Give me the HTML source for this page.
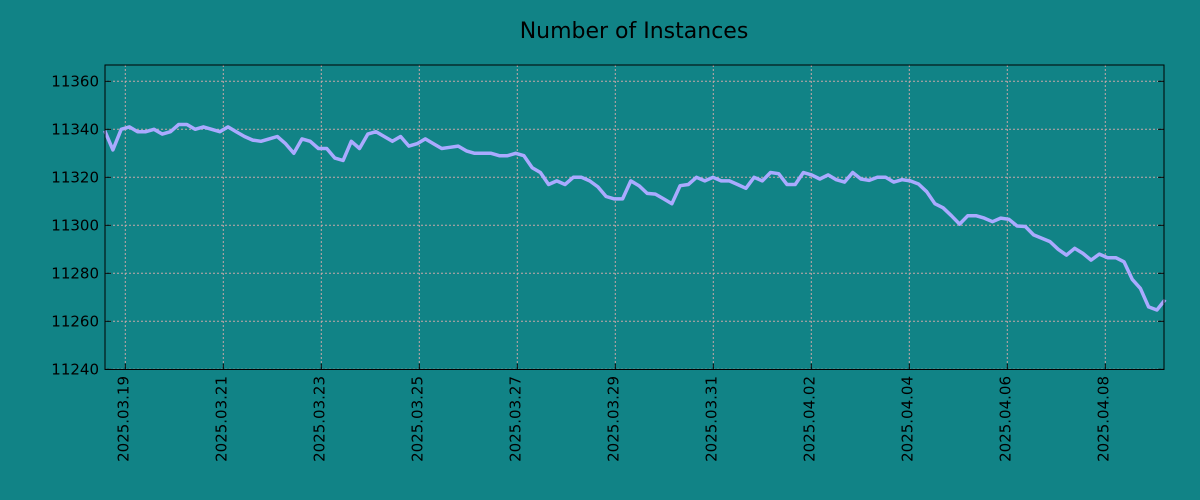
<!DOCTYPE html>
<html><head><meta charset="utf-8"><style>
html,body{margin:0;padding:0;background:#118386;overflow:hidden;width:1200px;height:500px;}
svg{display:block;}
svg text{font-family:"DejaVu Sans","Liberation Sans",sans-serif;fill:#000;}
</style></head><body>
<svg width="1200" height="500" xmlns="http://www.w3.org/2000/svg">
<rect width="1200" height="500" fill="#118386"/>
<text x="634" y="38" font-size="22" text-anchor="middle">Number of Instances</text>
<g id="grid"></g><g id="plot"></g><g id="axes"></g>
</svg>
<script>
const values = [11339.4,11331.4,11340,11341,11339,11339,11340,11338,11339,11342,11342,11340,11341,11340,11339,11341,11339,11337,11335.5,11335,11336,11337,11334,11330,11336,11335,11332,11332,11328,11327,11335,11332,11338,11339,11337,11335,11337,11333,11334,11336,11334,11332,
11332.5,11333,11331,11330,11330,11330,11329,11329,11330,11329,11324,11322,11317,11318.5,11317,11320,11320,11318.5,11316,11312,11311,11311,11318.5,11316.5,11313.3,11313,11311,11309,11316.5,11317,11320,11318.5,11320,11318.5,11318.5,11317,11315.4,11320,11318.5,11322,11321.5,11317,11317,11322,
11321,11319.3,11321,11319,11318,11322,11319.3,11318.7,11320,11320,11318,11319,11318.5,11317.2,11314,11309,11307.3,11304,11300.5,11304,11304,11303,11301.5,11303,11302.5,11299.7,11299.5,11296,11294.6,11293.2,11290,11287.6,11290.4,11288.3,11285.5,11288,11286.5,11286.5,11284.8,11277.5,11273.7,11266,11264.7,11269];
const tStart = -0.42, tEnd = 21.22; // days relative to 2025-03-19
const yTicks = [11240,11260,11280,11300,11320,11340,11360];
const xTickDays = [0,2,4,6,8,10,12,14,16,18,20];
const xTickLabels = ["2025.03.19","2025.03.21","2025.03.23","2025.03.25","2025.03.27","2025.03.29","2025.03.31","2025.04.02","2025.04.04","2025.04.06","2025.04.08"];

const L=105,R=1164,T=65,B=369.5;
const xScale = d => 125.3 + d*49;
const yScale = v => 129.3 - (v-11340)*2.4;
const NS="http://www.w3.org/2000/svg";
function mk(tag, parent){const e=document.createElementNS(NS,tag);parent.appendChild(e);return e;}
const grid=document.getElementById('grid'), plot=document.getElementById('plot'), axes=document.getElementById('axes');

yTicks.forEach(v=>{
  const y=yScale(v);
  const g=mk('line',grid);
  
  
  g.setAttribute('x1',L);g.setAttribute('x2',R);g.setAttribute('y1',y);g.setAttribute('y2',y);
  g.setAttribute('stroke','#c8a8a8');g.setAttribute('stroke-dasharray','2,2');g.setAttribute('stroke-width','1');
  const tk=mk('line',axes);
  
  
  tk.setAttribute('x1',L);tk.setAttribute('x2',L+6);tk.setAttribute('y1',y);tk.setAttribute('y2',y);tk.setAttribute('stroke','#000');
  const tk2=mk('line',axes);
  
  
  tk2.setAttribute('x1',R-6);tk2.setAttribute('x2',R);tk2.setAttribute('y1',y);tk2.setAttribute('y2',y);tk2.setAttribute('stroke','#000');
  const t=mk('text',axes);
  
  
  t.setAttribute('x',L-6);t.setAttribute('y',y+5);t.setAttribute('text-anchor','end');t.setAttribute('font-size','15');
  t.textContent=v;
});
xTickDays.forEach((d,i)=>{
  const x=xScale(d);
  const g=mk('line',grid);
  
  
  g.setAttribute('x1',x);g.setAttribute('x2',x);g.setAttribute('y1',T);g.setAttribute('y2',B);
  g.setAttribute('stroke','#c8a8a8');g.setAttribute('stroke-dasharray','2,2');g.setAttribute('stroke-width','1');
  const tk=mk('line',axes);
  
  
  tk.setAttribute('x1',x);tk.setAttribute('x2',x);tk.setAttribute('y1',B-6);tk.setAttribute('y2',B);tk.setAttribute('stroke','#000');
  const t=mk('text',axes);
  
  
  t.setAttribute('transform','translate('+(x+3)+',376) rotate(-90)');
  t.setAttribute('text-anchor','end');t.setAttribute('font-size','15');
  t.textContent=xTickLabels[i];
});
const n=values.length;
const pts=values.map((v,i)=>{const d=tStart+(tEnd-tStart)*i/(n-1);return xScale(d).toFixed(1)+','+yScale(v).toFixed(1);}).join(' ');
const line=mk('polyline',plot);


line.setAttribute('points',pts);line.setAttribute('fill','none');line.setAttribute('stroke','#aaaaff');line.setAttribute('stroke-width','3.5');line.setAttribute('stroke-linejoin','round');
const frame=mk('rect',axes);


frame.setAttribute('x',L);frame.setAttribute('y',T);frame.setAttribute('width',R-L);frame.setAttribute('height',B-T);
frame.setAttribute('fill','none');frame.setAttribute('stroke','#000');frame.setAttribute('stroke-width','1');
</script>
</body></html>
